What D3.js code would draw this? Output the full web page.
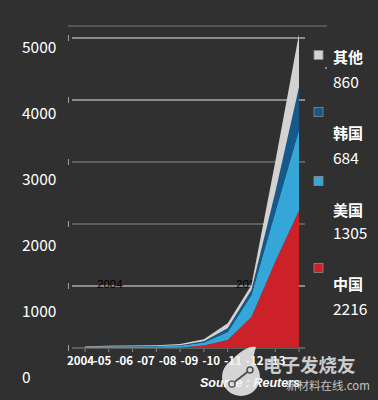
<!DOCTYPE html>
<html><head><meta charset="utf-8">
<script src="https://cdn.jsdelivr.net/npm/d3@7"></script>
<style>body{margin:0;background:#303030;overflow:hidden}</style>
</head><body><svg id="c" width="378" height="400"></svg>
<script>
const years = [2004, 2005, 2006, 2007, 2008, 2009, 2010, 2011, 2012, 2013];
const xLabels = ["2004", "-05", "-06", "-07", "-08", "-09", "-10", "-11", "-12", "-13"];
const china = [2, 3, 4, 5, 10, 40, 129, 500, 1390, 2216];
const usa = [15, 17, 20, 22, 28, 50, 131, 355, 800, 1305];
const korea = [3, 4, 4, 5, 7, 20, 60, 80, 320, 684];
const other = [10, 11, 12, 13, 18, 30, 80, 80, 490, 860];
const yTicks = [0, 1000, 2000, 3000, 4000, 5000];
const seriesKeys = ["china", "usa", "korea", "other"];
const legendNames = ["其他", "韩国", "美国", "中国"];
const legendValues = ["860", "684", "1305", "2216"];
const legendKeys = ["other", "korea", "usa", "china"];

const colors = {china: "#cd2129", usa: "#34a7d8", korea: "#15598a", other: "#d2d2d2"};
const svg = d3.select("#c");
svg.append("rect").attr("width", 378).attr("height", 400).attr("fill", "#303030");

const x = d3.scaleLinear().domain([2004, 2013]).range([85, 299]);
const y = d3.scaleLinear().domain([0, 5000]).range([348, 38]);
const yLab = d3.scaleLinear().domain([0, 5000]).range([378, 48]);
const xLab = d3.scalePoint().domain(xLabels).range([80, 276]);

// top border line
svg.append("line").attr("x1", 68).attr("x2", 327).attr("y1", 26).attr("y2", 26)
  .attr("stroke", "#7a7a7a").attr("stroke-width", 1.2);

// gridlines
const lightLines = new Set([5000, 4000, 1000]);
svg.append("g").selectAll("line").data(yTicks).join("line")
  .attr("x1", 72).attr("x2", 305)
  .attr("y1", d => y(d)).attr("y2", d => y(d))
  .attr("stroke", d => lightLines.has(d) ? "#e4e4e4" : "#8c8c8c").attr("stroke-width", 1.2);
svg.append("g").selectAll("line").data(yTicks).join("line")
  .attr("x1", 68.5).attr("x2", 68.5)
  .attr("y1", d => y(d) - 3).attr("y2", d => y(d) + 3)
  .attr("stroke", "#8fa4b0").attr("stroke-width", 1);

// stray black texts behind the areas
svg.append("text").attr("x", 97).attr("y", 288).text("2004")
  .attr("font-family", "Liberation Sans, sans-serif").attr("font-size", 11.5).attr("fill", "#000");
svg.append("text").attr("x", 236).attr("y", 288).text("2014")
  .attr("font-family", "Liberation Sans, sans-serif").attr("font-size", 11.5).attr("fill", "#000");

// stacked areas
const rows = years.map((yr, i) => ({year: yr, china: china[i], usa: usa[i], korea: korea[i], other: other[i]}));
const stack = d3.stack().keys(seriesKeys)(rows);
const area = d3.area().x(d => x(d.data.year)).y0(d => y(d[0])).y1(d => y(d[1]));
svg.append("g").selectAll("path").data(stack).join("path")
  .attr("d", area).attr("fill", d => colors[d.key]);

// x tick marks
svg.append("g").selectAll("line").data(years).join("line")
  .attr("x1", d => x(d)).attr("x2", d => x(d)).attr("y1", 349).attr("y2", 352)
  .attr("stroke", "#888").attr("stroke-width", 1);

// y labels
const gy = svg.append("g").attr("transform", "translate(22,0)")
  .call(d3.axisRight(yLab).tickValues(yTicks).tickSize(0).tickPadding(0).tickFormat(d3.format("d")));
gy.select(".domain").remove();
gy.selectAll("text").attr("fill", "#fff").attr("font-size", 15.5)
  .attr("font-family", "Noto Sans CJK SC, sans-serif").attr("text-anchor", "start");

// x labels
const gx = svg.append("g").attr("transform", "translate(0,357)")
  .call(d3.axisBottom(xLab).tickSize(0).tickPadding(0));
gx.select(".domain").remove();
gx.selectAll("text").attr("fill", "#fff").attr("font-size", 11.5).attr("font-weight", "bold")
  .attr("font-family", "Noto Sans CJK SC, sans-serif");

// legend
const legY = [55, 112, 181, 268];
const nameY = [58, 134, 211, 285];
const valY = [83, 159, 234, 310];
const lg = svg.append("g");
legendKeys.forEach((k, i) => {
  lg.append("rect").attr("x", 314).attr("y", legY[i] - 4.5).attr("width", 9).attr("height", 9)
    .attr("fill", colors[k]).attr("stroke", "#8a8a8a").attr("stroke-width", 0.8);
  lg.append("text").attr("x", 333).attr("y", nameY[i])
    .attr("dy", "0.35em").text(legendNames[i])
    .attr("fill", "#fff").attr("font-size", 15).attr("font-weight", "bold")
    .attr("font-family", "Noto Sans CJK SC, sans-serif");
  lg.append("text").attr("x", 333).attr("y", valY[i])
    .attr("dy", "0.35em").text(legendValues[i])
    .attr("fill", "#fff").attr("font-size", 15.5)
    .attr("font-family", "Noto Sans CJK SC, sans-serif");
});
lg.append("circle").attr("cx", 326).attr("cy", 68).attr("r", 0.8).attr("fill", "#fff");

// source
svg.append("text").attr("x", 200).attr("y", 387).text("Source : Reuters")
  .attr("fill", "#fff").attr("font-size", 12.5).attr("font-weight", "bold").attr("font-style", "italic")
  .attr("font-family", "Liberation Sans, sans-serif");

// watermark logo
const wm = svg.append("g").attr("opacity", 0.85);
wm.append("circle").attr("cx", 241).attr("cy", 377).attr("r", 19).attr("fill", "#f2f2f2");
wm.append("path").attr("d", "M228,364 Q245,345 256,347 Q252,360 254,364 Z").attr("fill", "#f2f2f2");
wm.append("line").attr("x1", 232).attr("y1", 384).attr("x2", 250).attr("y2", 370).attr("stroke", "#555").attr("stroke-width", 2);
wm.append("circle").attr("cx", 232).attr("cy", 384).attr("r", 3).attr("fill", "#f2f2f2").attr("stroke", "#555").attr("stroke-width", 1.5);
wm.append("circle").attr("cx", 250).attr("cy", 370).attr("r", 3).attr("fill", "#f2f2f2").attr("stroke", "#555").attr("stroke-width", 1.5);
wm.append("text").attr("x", 263).attr("y", 372).text("电子发烧友")
  .attr("fill", "#e8e8e8").attr("font-size", 18.5).attr("font-weight", "bold")
  .attr("font-family", "Noto Sans CJK SC, sans-serif");
wm.append("text").attr("x", 286).attr("y", 390).text("新材料在线.com")
  .attr("fill", "#dcdcdc").attr("font-size", 11.5)
  .attr("font-family", "Noto Sans CJK SC, sans-serif");
</script></body></html>
